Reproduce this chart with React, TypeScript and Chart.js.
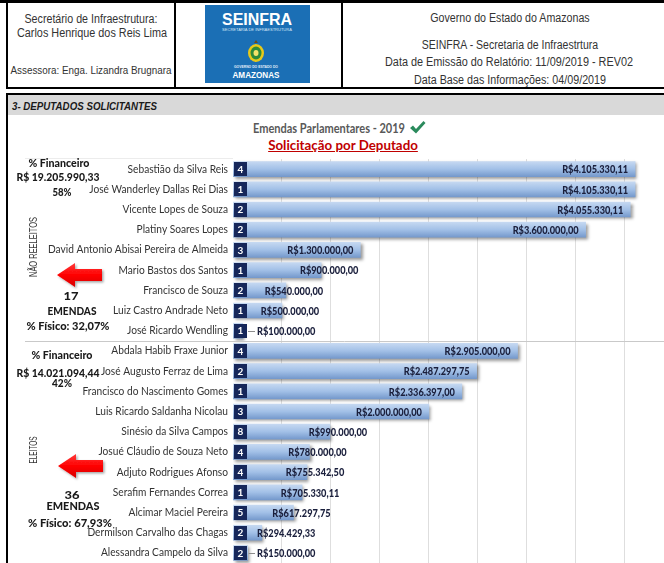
import React, { useEffect, useRef } from "react";
import { Chart, registerables } from "chart.js";

Chart.register(...registerables);

const deputados = [
  "Sebastião da Silva Reis",
  "José Wanderley Dallas Rei Dias",
  "Vicente Lopes de Souza",
  "Platiny Soares Lopes",
  "David Antonio Abisai Pereira de Almeida",
  "Mario Bastos dos Santos",
  "Francisco de Souza",
  "Luiz Castro Andrade Neto",
  "José Ricardo Wendling",
  "Abdala Habib Fraxe Junior",
  "José Augusto Ferraz de Lima",
  "Francisco do Nascimento Gomes",
  "Luis Ricardo Saldanha Nicolau",
  "Sinésio da Silva Campos",
  "Josué Cláudio de Souza Neto",
  "Adjuto Rodrigues Afonso",
  "Serafim Fernandes Correa",
  "Alcimar Maciel Pereira",
  "Dermilson Carvalho das Chagas",
  "Alessandra Campelo da Silva",
];

const valores = [
  4105330.11, 4105330.11, 4055330.11, 3600000, 1300000, 900000, 540000, 500000, 100000,
  2905000, 2487297.75, 2336397, 2000000, 990000, 780000, 755342.5, 705330.11, 617297.75, 294429.33, 150000,
];

const emendas = [4, 1, 2, 2, 3, 1, 2, 1, 1, 4, 2, 1, 3, 8, 4, 4, 1, 5, 2, 2];

const naoReeleitosCount = 9;

const gridTicks = [0, 500000, 1000000, 1500000, 2000000, 2500000, 3000000, 3500000, 4000000];

const CAL = "Lato, 'Liberation Sans', sans-serif";
const ARIAL = "'Liberation Sans', Arial, sans-serif";

function fmtBRL(v: number): string {
  const fixed = v.toFixed(2);
  const [intPart, dec] = fixed.split(".");
  const withDots = intPart.replace(/\B(?=(\d{3})+(?!\d))/g, ".");
  return "R$" + withDots + "," + dec;
}

let measureCtx: CanvasRenderingContext2D | null = null;
function measure(text: string, font: string): number {
  if (!measureCtx) measureCtx = document.createElement("canvas").getContext("2d");
  if (!measureCtx) return 1;
  measureCtx.font = font;
  return measureCtx.measureText(text).width || 1;
}

const overlayPlugin = {
  id: "overlay",
  beforeDraw(chart: any) {
    const s = chart.scales.y;
    if (s && !s.__patched) {
      const orig = s.drawLabels.bind(s);
      s.drawLabels = function (area: any) {
        const ctx = chart.ctx;
        ctx.font = "11px " + CAL;
        const k = 180 / (ctx.measureText("David Antonio Abisai Pereira de Almeida").width || 180);
        const rx = chart.chartArea.left - 5;
        ctx.save();
        ctx.translate(rx, 0);
        ctx.scale(k, 1);
        ctx.translate(-rx, 0);
        orig(area);
        ctx.restore();
      };
      s.__patched = true;
    }
  },
  beforeDatasetsDraw(chart: any) {
    const ctx = chart.ctx;
    ctx.save();
    ctx.shadowColor = "rgba(0,0,0,0.4)";
    ctx.shadowBlur = 3;
    ctx.shadowOffsetX = 2;
    ctx.shadowOffsetY = 2;
  },
  afterDatasetsDraw(chart: any) {
    const ctx = chart.ctx;
    ctx.restore();
    const xs = chart.scales.x;
    const ys = chart.scales.y;
    const sepY = Math.round((ys.getPixelForValue(naoReeleitosCount - 1) + ys.getPixelForValue(naoReeleitosCount)) / 2) + 0.5;
    ctx.save();
    ctx.strokeStyle = "#c9c9c9";
    ctx.lineWidth = 1;
    ctx.beginPath();
    ctx.moveTo(25, sepY);
    ctx.lineTo(chart.width, sepY);
    ctx.stroke();
    ctx.strokeStyle = "#ececec";
    ctx.beginPath();
    ctx.moveTo(25, chart.chartArea.top - 0.5);
    ctx.lineTo(chart.chartArea.left, chart.chartArea.top - 0.5);
    ctx.stroke();

    const valFont = "900 12px " + CAL;
    ctx.font = valFont;
    const kv = 66 / (ctx.measureText("R$4.105.330,11").width || 66);

    const x0 = xs.getPixelForValue(0);
    for (let i = 0; i < valores.length; i++) {
      const y = ys.getPixelForValue(i);
      ctx.fillStyle = "#16275a";
      ctx.fillRect(x0 + 1, Math.round(y) - 7, 13, 14);
      ctx.fillStyle = "#ffffff";
      ctx.font = "bold 10px " + CAL;
      ctx.textAlign = "center";
      ctx.textBaseline = "middle";
      ctx.fillText(String(emendas[i]), x0 + 7.5, y + 0.5);

      const txt = fmtBRL(valores[i]);
      ctx.font = valFont;
      const w = ctx.measureText(txt).width * kv;
      const end = xs.getPixelForValue(valores[i]);
      const L = end - x0;
      let left: number;
      if (L > 110) {
        left = end - 7 - w;
      } else {
        left = Math.max(end + 8 - w / 2, x0 + 24);
        const from = Math.max(end, x0 + 14) + 1;
        if (left - from > 5) {
          ctx.strokeStyle = "#8c8c8c";
          ctx.lineWidth = 1;
          ctx.beginPath();
          ctx.moveTo(from, Math.round(y) + 0.5);
          ctx.lineTo(left - 2, Math.round(y) + 0.5);
          ctx.stroke();
        }
      }
      ctx.save();
      ctx.translate(left, y + 0.5);
      ctx.scale(kv, 1);
      ctx.fillStyle = "#1a1f3c";
      ctx.textAlign = "left";
      ctx.textBaseline = "middle";
      ctx.fillText(txt, 0, 0);
      ctx.restore();
    }
    ctx.restore();
  },
};

function BarChart() {
  const ref = useRef<HTMLCanvasElement | null>(null);
  useEffect(() => {
    if (!ref.current) return;
    const chart = new Chart(ref.current, {
      type: "bar",
      data: {
        labels: deputados,
        datasets: [
          {
            data: valores,
            barThickness: 15,
            backgroundColor: (c: any) => {
              const ch = c.chart;
              const ys = ch.scales && ch.scales.y;
              if (!ys || c.dataIndex === undefined || !ch.chartArea) return "#a6c3e8";
              const y = ys.getPixelForValue(c.dataIndex);
              if (!Number.isFinite(y)) return "#a6c3e8";
              const g = ch.ctx.createLinearGradient(0, y - 7.5, 0, y + 7.5);
              g.addColorStop(0, "#c5d8f1");
              g.addColorStop(0.5, "#a2c0e7");
              g.addColorStop(1, "#7599cc");
              return g;
            },
            borderWidth: 0,
          },
        ],
      },
      options: {
        indexAxis: "y",
        animation: false,
        responsive: false,
        devicePixelRatio: 1,
        layout: { padding: { top: 4, right: 0, bottom: 0, left: 0 } },
        plugins: { legend: { display: false }, tooltip: { enabled: false } },
        scales: {
          x: {
            min: 0,
            max: 4400000,
            afterBuildTicks: (s: any) => {
              s.ticks = gridTicks.map((v) => ({ value: v }));
            },
            afterFit: (s: any) => {
              s.height = 0;
              s.paddingLeft = 0;
              s.paddingRight = 0;
              s.paddingTop = 0;
              s.paddingBottom = 0;
            },
            ticks: { display: false },
            grid: {
              drawTicks: false,
              color: (c: any) => (c.tick && c.tick.value === 0 ? "rgba(0,0,0,0)" : "#dedede"),
            },
            border: { display: false },
          },
          y: {
            afterFit: (s: any) => {
              s.width = 233;
              s.paddingTop = 0;
              s.paddingBottom = 0;
            },
            ticks: {
              autoSkip: false,
              padding: 5,
              color: "#333333",
              font: { family: CAL, size: 11 },
            },
            grid: { display: false, drawTicks: false },
            border: { display: false },
          },
        },
      } as any,
      plugins: [overlayPlugin],
    });
    return () => chart.destroy();
  }, []);
  return (
    <canvas
      ref={ref}
      width={664}
      height={408}
      style={{ position: "absolute", left: 0, top: 155, width: 664, height: 408 }}
    />
  );
}

function Arrow({ left, top }: { left: number; top: number }) {
  return (
    <svg width={50} height={30} viewBox="0 0 50 30" style={{ position: "absolute", left, top, overflow: "visible" }}>
      <defs>
        <linearGradient id={"ag" + top} x1="0" y1="0" x2="0" y2="1">
          <stop offset="0" stopColor="#ff3b3b" />
          <stop offset="0.5" stopColor="#ff0000" />
          <stop offset="1" stopColor="#d80000" />
        </linearGradient>
        <filter id={"as" + top} x="-20%" y="-20%" width="150%" height="160%">
          <feDropShadow dx="1.5" dy="1.5" stdDeviation="1.2" floodColor="#000" floodOpacity="0.35" />
        </filter>
      </defs>
      <path
        d="M0 12 L18 0 L18 6 L45 6 L45 18 L18 18 L18 24 Z"
        fill={"url(#ag" + top + ")"}
        filter={"url(#as" + top + ")"}
      />
    </svg>
  );
}

function FT({ x, y, w, children, style, align, rotate }: any) {
  const st = style || {};
  const font = `${st.fontStyle || "normal"} ${st.fontWeight || "normal"} ${st.fontSize || 12}px ${st.fontFamily || ARIAL}`;
  const k = w ? w / measure(String(children), font) : 1;
  const isLeft = align === "left";
  const transform = isLeft
    ? `translateY(-50%) scaleX(${k})`
    : `translate(-50%, -50%)${rotate ? ` rotate(${rotate}deg)` : ""} scaleX(${k})`;
  return (
    <div
      style={{
        position: "absolute",
        left: x,
        top: y,
        transform,
        transformOrigin: isLeft ? "0 50%" : "50% 50%",
        whiteSpace: "nowrap",
        lineHeight: 1,
        ...st,
      }}
    >
      {children}
    </div>
  );
}

const annot = { fontFamily: CAL, fontWeight: 900, fontSize: 11.5, color: "#1a1a1a" };
const hdr = { fontFamily: ARIAL, fontSize: 12, color: "#333333" };

export default function App() {
  return (
    <div
      style={{
        position: "fixed",
        left: 0,
        top: 0,
        width: 664,
        height: 563,
        overflow: "hidden",
        background: "#ffffff",
      }}
    >
      <div style={{ position: "absolute", left: 0, top: 0, width: 664, height: 3, background: "#000" }} />
      <div style={{ position: "absolute", left: 6, top: 0, width: 2, height: 89, background: "#000" }} />
      <div style={{ position: "absolute", left: 6, top: 87, width: 660, height: 2, background: "#000" }} />
      <div style={{ position: "absolute", left: 174, top: 0, width: 2, height: 89, background: "#000" }} />
      <div style={{ position: "absolute", left: 341, top: 0, width: 2, height: 89, background: "#000" }} />

      <FT x={91} y={19} w={133} style={{ ...hdr, fontSize: 12.5 }}>Secretário de Infraestrutura:</FT>
      <FT x={92} y={33} w={150} style={{ ...hdr, fontSize: 12.5 }}>Carlos Henrique dos Reis Lima</FT>
      <FT x={91} y={71} w={161} style={{ ...hdr, fontSize: 11.5 }}>Assessora: Enga. Lizandra Brugnara</FT>

      <div style={{ position: "absolute", left: 205, top: 5, width: 105, height: 78, background: "#1b6fb5" }} />
      <FT x={257} y={19} w={70} style={{ fontFamily: ARIAL, fontWeight: "bold", fontSize: 16.5, color: "#fff" }}>SEINFRA</FT>
      <FT x={257} y={29.5} w={70} style={{ fontFamily: ARIAL, fontSize: 4, color: "#d8e6f5" }}>SECRETARIA DE INFRAESTRUTURA</FT>
      <svg width={18} height={24} viewBox="0 0 18 24" style={{ position: "absolute", left: 247, top: 40 }}>
        <path d="M9 0 L11 3 L7 3 Z" fill="#6b4a1a" />
        <ellipse cx="9" cy="13" rx="8" ry="9" fill="#e8c91a" />
        <ellipse cx="9" cy="13" rx="5.5" ry="6.5" fill="#2d8a3a" />
        <ellipse cx="9" cy="13" rx="2.5" ry="3" fill="#f4e36a" />
      </svg>
      <FT x={256} y={68} w={44} style={{ fontFamily: ARIAL, fontWeight: "bold", fontSize: 3.5, color: "#e3eef9" }}>GOVERNO DO ESTADO DO</FT>
      <FT x={256} y={75} w={47} style={{ fontFamily: ARIAL, fontWeight: "bold", fontSize: 9.5, color: "#fff" }}>AMAZONAS</FT>

      <FT x={510} y={18} w={160} style={hdr}>Governo do Estado do Amazonas</FT>
      <FT x={510} y={45} w={177} style={hdr}>SEINFRA - Secretaria de Infraestrtura</FT>
      <FT x={509} y={62} w={248} style={hdr}>Data de Emissão do Relatório: 11/09/2019 - REV02</FT>
      <FT x={510} y={80} w={192} style={hdr}>Data Base das Informações: 04/09/2019</FT>

      <div style={{ position: "absolute", left: 6, top: 93, width: 660, height: 2, background: "#000" }} />
      <div style={{ position: "absolute", left: 8, top: 95, width: 660, height: 20, background: "#d9d9d9" }} />
      <div style={{ position: "absolute", left: 6, top: 93, width: 2, height: 470, background: "#000" }} />
      <FT
        x={12}
        y={106}
        w={145}
        align="left"
        style={{ fontFamily: ARIAL, fontWeight: "bold", fontStyle: "italic", fontSize: 11, color: "#1a1a1a" }}
      >
        3- DEPUTADOS SOLICITANTES
      </FT>

      <FT x={329} y={128} w={152} style={{ fontFamily: CAL, fontWeight: "bold", fontSize: 14, color: "#595959" }}>
        Emendas Parlamentares - 2019
      </FT>
      <svg width={17} height={15} viewBox="0 0 17 15" style={{ position: "absolute", left: 409, top: 120 }}>
        <path d="M1 8 L4 5.5 L7 9 L14.5 1 L16.5 3 L7 13.5 Z" fill="#2a8a5c" />
      </svg>
      <FT
        x={343}
        y={145}
        w={150}
        style={{ fontFamily: CAL, fontWeight: "bold", fontSize: 14, color: "#c00000", textDecoration: "underline" }}
      >
        Solicitação por Deputado
      </FT>

      <BarChart />

      <FT x={59} y={163} w={61} style={annot}>% Financeiro</FT>
      <FT x={58} y={177} w={83} style={annot}>R$ 19.205.990,33</FT>
      <FT x={62} y={192} w={19} style={annot}>58%</FT>
      <FT x={33} y={247} w={60} rotate={-90} style={{ fontFamily: ARIAL, fontSize: 10.5, color: "#333" }}>
        NÃO REELEITOS
      </FT>
      <Arrow left={57} top={263} />
      <FT x={71} y={296} w={15} style={annot}>17</FT>
      <FT x={72} y={311} w={49} style={annot}>EMENDAS</FT>
      <FT x={68} y={326} w={83} style={annot}>% Físico: 32,07%</FT>

      <FT x={62} y={355} w={61} style={annot}>% Financeiro</FT>
      <FT x={58} y={373} w={83} style={annot}>R$ 14.021.094,44</FT>
      <FT x={62} y={383} w={20} style={annot}>42%</FT>
      <FT x={33} y={450} w={27} rotate={-90} style={{ fontFamily: ARIAL, fontSize: 10.5, color: "#333" }}>
        ELEITOS
      </FT>
      <Arrow left={58} top={454} />
      <FT x={72} y={495} w={15} style={annot}>36</FT>
      <FT x={73} y={506} w={53} style={annot}>EMENDAS</FT>
      <FT x={70} y={523} w={84} style={annot}>% Físico: 67,93%</FT>
    </div>
  );
}
